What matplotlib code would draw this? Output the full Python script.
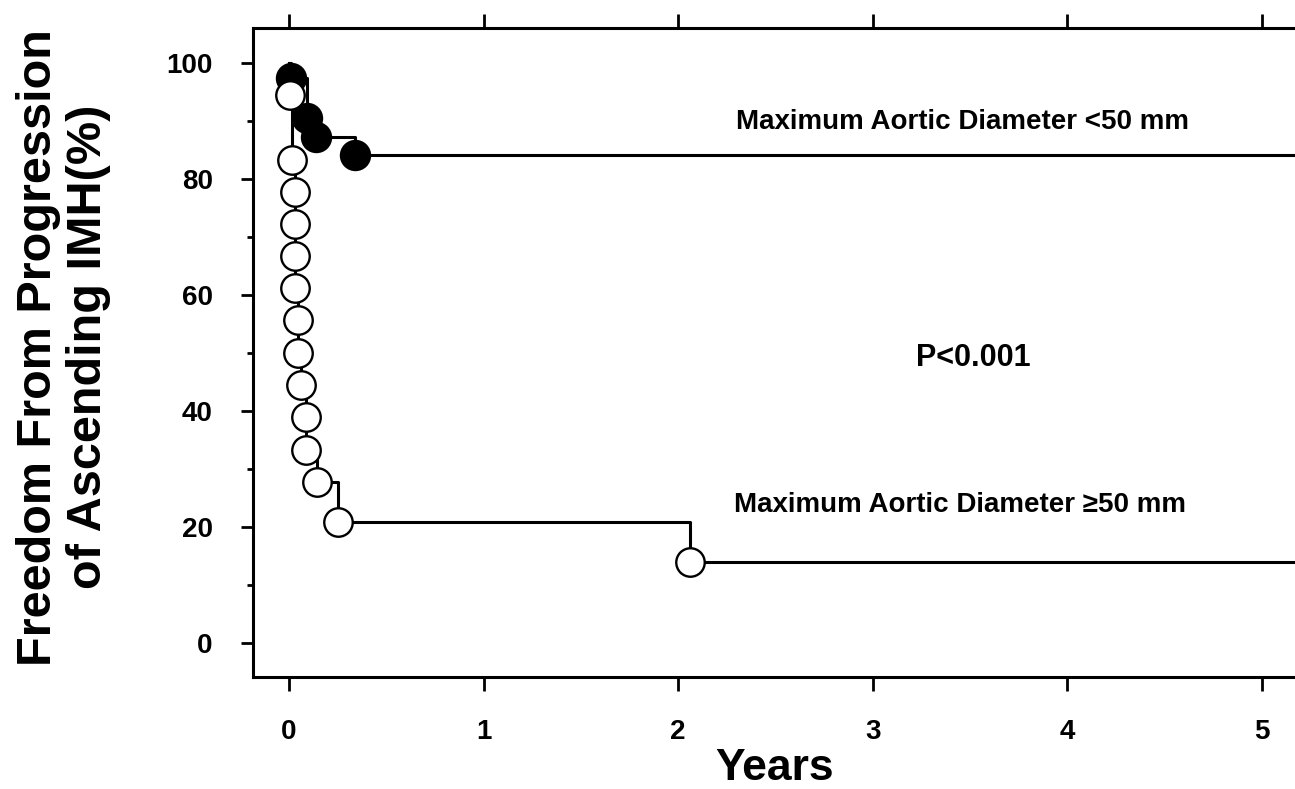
import numpy as np
import matplotlib
matplotlib.use("Agg")
import matplotlib.pyplot as plt

plt.rcParams["font.family"] = ["Liberation Sans", "DejaVu Sans"]
plt.rcParams["font.weight"] = "bold"

# Kaplan-Meier event times (years) and survival (%) at each event
small_times = [0.01, 0.09, 0.14, 0.34]
small_surv = [97.4, 90.5, 87.2, 84.1]

large_times = [0.005, 0.015, 0.03, 0.03, 0.03, 0.03, 0.046, 0.046,
               0.062, 0.087, 0.087, 0.144, 0.25, 2.06]
large_surv = [94.4, 83.3, 77.8, 72.2, 66.7, 61.1, 55.6, 50.0,
              44.4, 38.9, 33.3, 27.8, 20.8, 13.9]

followup_end = 5.3
x_ticks = [0, 1, 2, 3, 4, 5]
y_ticks = [0, 20, 40, 60, 80, 100]

label_small = "Maximum Aortic Diameter <50 mm"
label_large = "Maximum Aortic Diameter \u226550 mm"
p_text = "P<0.001"


def km_steps(times, surv, end):
    t = np.r_[0.0, times, end]
    s = np.r_[100.0, surv, surv[-1]]
    return t, s


fig = plt.figure(figsize=(12.95, 7.89), dpi=100)
ax = fig.add_axes([0.1954, 0.142, 0.824, 0.8225])

for times, surv in ((small_times, small_surv), (large_times, large_surv)):
    t, s = km_steps(times, surv, followup_end)
    ax.step(t, s, where="post", color="black", lw=2.2, zorder=2)

ax.plot(small_times, small_surv, "o", ms=21, mfc="black", mec="black",
        mew=1.6, zorder=3)
ax.plot(large_times, large_surv, "o", ms=20.5, mfc="white", mec="black",
        mew=1.7, zorder=4)

ax.set_xlim(-0.185, followup_end)
ax.set_ylim(-5.86, 106.0)
ax.set_xticks(x_ticks)
ax.set_yticks(y_ticks)
ax.set_yticks(np.arange(10, 100, 20), minor=True)
ax.tick_params(axis="both", which="major", direction="out", width=2,
               labelsize=20, color="black")
ax.tick_params(axis="x", which="major", length=10, pad=20,
               top=True, labeltop=False)
ax.tick_params(axis="y", which="major", length=9, pad=20)
ax.tick_params(axis="y", which="minor", direction="out", length=4, width=2)
for lab in ax.get_xticklabels() + ax.get_yticklabels():
    lab.set_fontweight("bold")

for side in ("left", "bottom", "top"):
    ax.spines[side].set_linewidth(2.2)
ax.spines["right"].set_visible(False)

ax.text(3.46, 89.8, label_small, ha="center", va="center", fontsize=20,
        fontweight="bold")
ax.text(3.45, 23.8, label_large, ha="center", va="center", fontsize=20,
        fontweight="bold")
ax.text(3.515, 49.2, p_text, ha="center", va="center", fontsize=22,
        fontweight="bold")

fig.text(0.049, 0.56, "Freedom From Progression\nof Ascending IMH(%)",
         rotation=90, ha="center", va="center", multialignment="center",
         fontsize=35, fontweight="bold", linespacing=1.15)
fig.text(0.598, 0.012, "Years", ha="center", va="baseline",
         fontsize=32, fontweight="bold")

fig.savefig("out.png", dpi=100)
